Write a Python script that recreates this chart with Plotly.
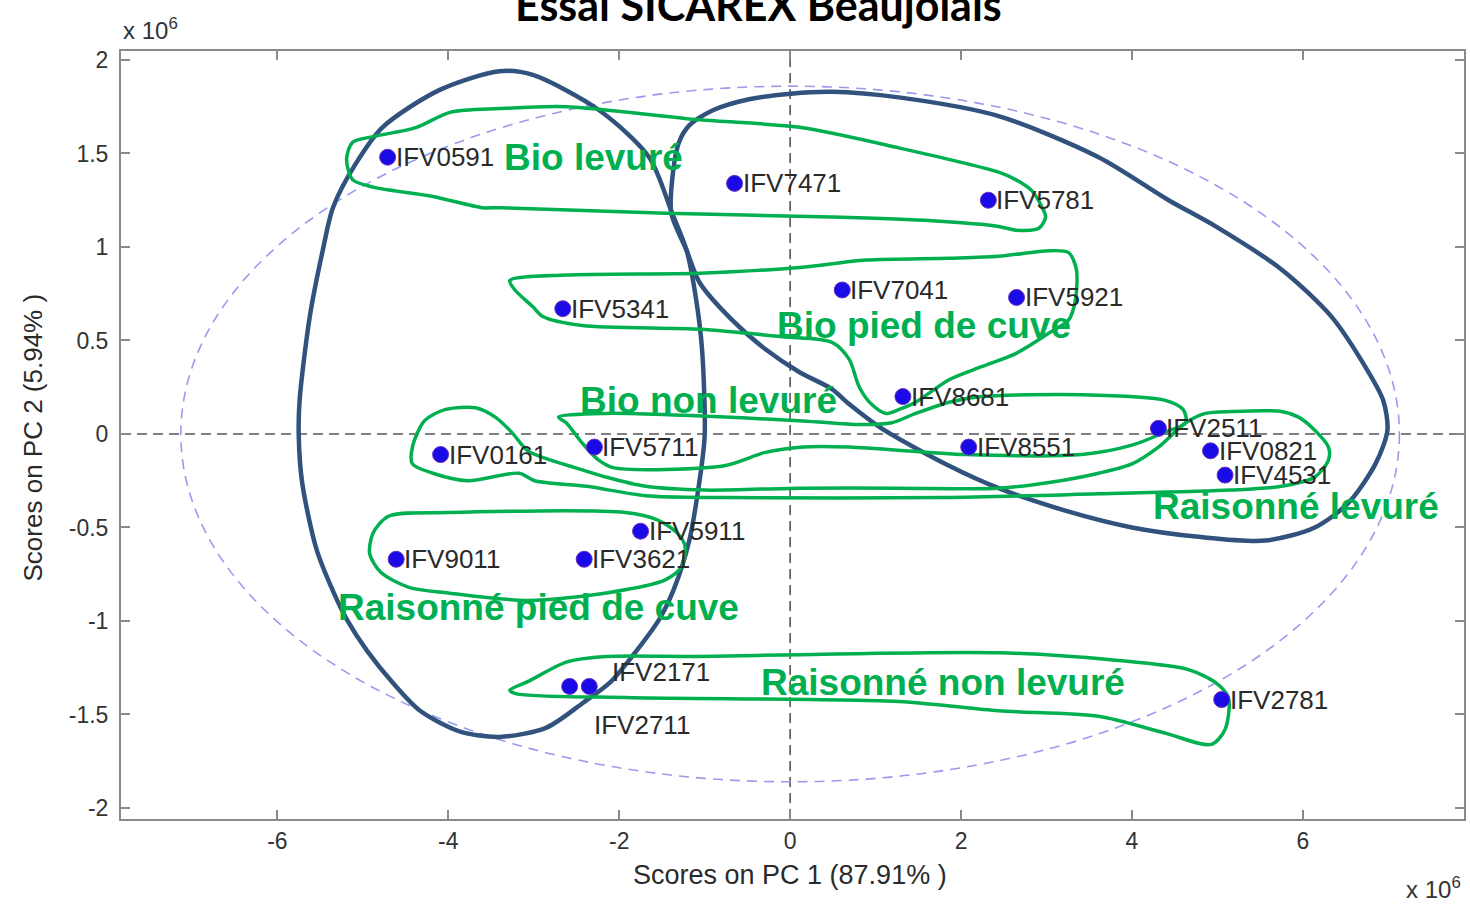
import plotly.graph_objects as go

# ---------------- data ----------------
sample_names = ["IFV0591", "IFV7471", "IFV5781", "IFV7041", "IFV5921", "IFV5341",
                "IFV8681", "IFV0161", "IFV5711", "IFV8551", "IFV2511", "IFV0821",
                "IFV4531", "IFV5911", "IFV9011", "IFV3621", "IFV2171", "IFV2711",
                "IFV2781"]
pc1_scores = [-4.71, -0.65, 2.32, 0.61, 2.65, -2.66,
              1.32, -4.09, -2.29, 2.09, 4.31, 4.92,
              5.09, -1.75, -4.61, -2.41, -2.58, -2.35,
              5.05]
pc2_scores = [1.48, 1.34, 1.25, 0.77, 0.73, 0.67,
              0.20, -0.11, -0.07, -0.07, 0.03, -0.09,
              -0.22, -0.52, -0.67, -0.67, -1.35, -1.35,
              -1.42]

x_tick_vals = [-6, -4, -2, 0, 2, 4, 6]
x_tick_labels = ["-6", "-4", "-2", "0", "2", "4", "6"]
y_tick_vals = [-2, -1.5, -1, -0.5, 0, 0.5, 1, 1.5, 2]
y_tick_labels = ["-2", "-1.5", "-1", "-0.5", "0", "0.5", "1", "1.5", "2"]

# 95% confidence ellipse (semi-axes, in score units)
conf_ellipse_a = 7.13
conf_ellipse_b = 1.86

# hand-drawn group outlines (score units)
bio_levure_x = [-3.40, -2.62, -1.06, 0.11, 1.27, 2.44, 2.64, 2.83, 2.94, 2.99, 2.91, 2.64, 2.44, 1.66,
                0.49, -1.45, -3.40, -3.60, -4.18, -4.88, -5.12, -5.19, -5.12, -4.88, -4.37, -3.98, -3.40]
bio_levure_y = [1.74, 1.75, 1.68, 1.64, 1.53, 1.40, 1.36, 1.30, 1.22, 1.16, 1.10, 1.09, 1.11, 1.14,
                1.16, 1.18, 1.21, 1.21, 1.27, 1.32, 1.36, 1.47, 1.56, 1.59, 1.64, 1.72, 1.74]

bio_pied_x = [-3.28, -2.62, -1.06, 0.11, 0.89, 1.86, 2.44, 3.03, 3.26, 3.35, 3.34, 3.26, 3.03, 2.64,
              2.24, 1.86, 1.47, 1.27, 1.12, 0.95, 0.81, 0.69, 0.49, -0.09, -1.06, -2.43, -2.90, -3.01,
              -3.22, -3.28]
bio_pied_y = [0.82, 0.85, 0.86, 0.89, 0.93, 0.94, 0.95, 0.98, 0.97, 0.88, 0.72, 0.61, 0.54, 0.43,
              0.36, 0.29, 0.17, 0.13, 0.11, 0.16, 0.25, 0.40, 0.49, 0.52, 0.56, 0.58, 0.63, 0.68,
              0.77, 0.82]

bio_non_x = [-2.71, -2.16, -1.24, 0.15, 0.81, 1.19, 1.47, 1.86, 2.24, 3.41, 4.39, 4.60, 4.63, 4.39,
             4.00, 3.41, 2.06, 0.69, 0.15, -0.30, -0.77, -2.07, -2.24, -2.43, -2.62, -2.71]
bio_non_y = [0.09, 0.11, 0.10, 0.07, 0.05, 0.06, 0.11, 0.17, 0.20, 0.21, 0.18, 0.13, 0.06, 0.01,
             -0.06, -0.11, -0.11, -0.07, -0.07, -0.10, -0.17, -0.18, -0.14, -0.05, 0.06, 0.09]

rais_lev_x = [-3.68, -3.45, -3.26, -3.07, -2.80, -2.52, -2.16, -1.69, -1.00, 0.11, 1.27, 2.44, 3.03,
              3.61, 4.00, 4.31, 4.63, 4.86, 5.16, 5.75, 5.95, 6.14, 6.30, 6.30, 6.14, 5.75, 5.16,
              3.61, 1.81, -0.77, -1.69, -2.38, -2.99, -3.17, -3.77, -4.18, -4.42, -4.42, -4.28,
              -4.04, -3.68]
rais_lev_y = [0.14, 0.09, 0.01, -0.09, -0.14, -0.18, -0.23, -0.28, -0.30, -0.29, -0.29, -0.29, -0.26,
              -0.21, -0.16, -0.07, 0.06, 0.11, 0.12, 0.12, 0.09, 0.02, -0.07, -0.14, -0.23, -0.28,
              -0.30, -0.32, -0.34, -0.34, -0.33, -0.28, -0.25, -0.21, -0.25, -0.21, -0.16, -0.07,
              0.07, 0.13, 0.14]

rais_pied_x = [-4.70, -4.00, -1.93, -1.55, -1.32, -1.23, -1.27, -1.46, -2.15, -3.07, -4.00, -4.46,
               -4.79, -4.92, -4.88, -4.70]
rais_pied_y = [-0.44, -0.42, -0.42, -0.46, -0.53, -0.60, -0.71, -0.78, -0.85, -0.89, -0.85, -0.82,
               -0.74, -0.64, -0.53, -0.44]

rais_non_x = [-3.28, -3.05, -2.62, -2.15, -1.06, 0.11, 2.44, 3.81, 4.66, 4.98, 5.13, 5.09, 4.93,
              4.39, 3.61, 2.44, 1.27, -1.85, -3.20, -3.28]
rais_non_y = [-1.37, -1.32, -1.22, -1.19, -1.19, -1.18, -1.17, -1.21, -1.26, -1.33, -1.41, -1.58,
              -1.66, -1.60, -1.51, -1.48, -1.43, -1.41, -1.39, -1.37]

cluster_left_x = [-3.40, -3.01, -2.23, -1.65, -1.38, -1.21, -1.10, -1.03, -1.00, -1.06, -1.18, -1.36,
                  -1.53, -1.85, -2.11, -2.43, -2.85, -3.40, -3.87, -4.33, -4.65, -4.95, -5.19, -5.30,
                  -5.54, -5.71, -5.75, -5.74, -5.62, -5.47, -5.35, -5.09, -4.77, -4.10, -3.40]
cluster_left_y = [1.94, 1.92, 1.73, 1.48, 1.18, 0.98, 0.72, 0.45, -0.01, -0.25, -0.57, -0.83,
                  -0.99, -1.19, -1.33, -1.44, -1.57, -1.62, -1.59, -1.48, -1.33, -1.16, -0.99, -0.89,
                  -0.62, -0.26, -0.01, 0.18, 0.63, 0.98, 1.21, 1.44, 1.64, 1.84, 1.94]

cluster_right_x = [-1.39, -1.21, -1.06, -0.68, -0.28, 0.11, 0.49, 0.69, 1.07, 1.86, 2.44, 3.22, 4.00,
                   4.78, 5.56, 6.14, 6.53, 6.85, 6.99, 6.94, 6.73, 6.33, 5.75, 4.98, 4.43, 3.61,
                   2.44, 1.27, 0.49, 0.01, -0.48, -0.91, -1.18, -1.30, -1.38, -1.39]
cluster_right_y = [1.18, 0.98, 0.81, 0.61, 0.45, 0.33, 0.24, 0.16, 0.03, -0.17, -0.29, -0.41, -0.50,
                   -0.55, -0.57, -0.50, -0.37, -0.16, 0.02, 0.18, 0.36, 0.63, 0.88, 1.11, 1.25, 1.48,
                   1.70, 1.80, 1.83, 1.82, 1.79, 1.73, 1.65, 1.56, 1.36, 1.18]

group_labels = ["Bio levuré", "Bio pied de cuve", "Bio non levuré", "Raisonné levuré",
                "Raisonné pied de cuve", "Raisonné non levuré"]
group_label_x = [-2.30, 1.57, -0.95, 5.92, -2.94, 1.79]
group_label_y = [1.48, 0.58, 0.18, -0.39, -0.93, -1.33]

# ---------------- styles ----------------
GREEN = "#00b050"
NAVY = "#31527d"
AXIS_GRAY = "#8a8a8a"
TEXT_DARK = "#2a2a2a"
FONT = "Liberation Sans, Arial, sans-serif"

label_shift = {"IFV2171": (40, 14), "IFV2711": (3, -39)}

fig = go.Figure()

# navy cluster ellipses
for xs, ys in [(cluster_left_x, cluster_left_y), (cluster_right_x, cluster_right_y)]:
    fig.add_trace(go.Scatter(x=xs, y=ys, mode="lines",
                             line=dict(color=NAVY, width=4.5, shape="spline", smoothing=0.8),
                             hoverinfo="skip", showlegend=False))

# green hand-drawn outlines
for xs, ys in [(bio_levure_x, bio_levure_y), (bio_pied_x, bio_pied_y), (bio_non_x, bio_non_y),
               (rais_lev_x, rais_lev_y), (rais_pied_x, rais_pied_y), (rais_non_x, rais_non_y)]:
    fig.add_trace(go.Scatter(x=xs, y=ys, mode="lines",
                             line=dict(color=GREEN, width=3.5, shape="spline", smoothing=0.8),
                             hoverinfo="skip", showlegend=False))

# sample markers
fig.add_trace(go.Scatter(x=pc1_scores, y=pc2_scores, mode="markers",
                         marker=dict(color="#1a0ae6", size=16, line=dict(color="#6a30c0", width=1)),
                         text=sample_names, showlegend=False))

annotations = []
for name, xv, yv in zip(sample_names, pc1_scores, pc2_scores):
    dx, dy = label_shift.get(name, (6, 0))
    annotations.append(dict(x=xv, y=yv, xref="x", yref="y", text=name, showarrow=False,
                            xanchor="left", yanchor="middle", xshift=dx, yshift=dy,
                            font=dict(family=FONT, size=26, color=TEXT_DARK)))

for txt, xv, yv in zip(group_labels, group_label_x, group_label_y):
    annotations.append(dict(x=xv, y=yv, xref="x", yref="y", text=txt, showarrow=False,
                            xanchor="center", yanchor="middle",
                            font=dict(family=FONT, size=37, color=GREEN, weight="bold")))

# title (partially out of the frame at the top)
annotations.append(dict(x=0.475, y=1, xref="paper", yref="paper", text="<b>Essai SICAREX Beaujolais</b>",
                        showarrow=False, xanchor="center", yanchor="bottom", yshift=19,
                        font=dict(family="Lato, Open Sans, sans-serif", size=43, color="#000000")))
# exponent labels
annotations.append(dict(x=0, y=1, xref="paper", yref="paper", text="x 10<sup>6</sup>",
                        showarrow=False, xanchor="left", yanchor="bottom", yshift=5,
                        font=dict(family=FONT, size=24, color="#333333")))
annotations.append(dict(x=0.999, y=0, xref="paper", yref="paper", text="x 10<sup>6</sup>",
                        showarrow=False, xanchor="right", yanchor="top", yshift=-52,
                        font=dict(family=FONT, size=24, color="#333333")))
# axis titles
annotations.append(dict(x=0.498, y=-0.073, xref="paper", yref="paper",
                        text="Scores on PC 1 (87.91% )", showarrow=False,
                        xanchor="center", yanchor="middle",
                        font=dict(family=FONT, size=27, color=TEXT_DARK)))
annotations.append(dict(x=-0.0654, y=0.497, xref="paper", yref="paper",
                        text="Scores on PC 2 (5.94% )", showarrow=False, textangle=-90,
                        xanchor="center", yanchor="middle",
                        font=dict(family=FONT, size=26, color=TEXT_DARK)))

shapes = [
    dict(type="circle", xref="x", yref="y", x0=-conf_ellipse_a, x1=conf_ellipse_a,
         y0=-conf_ellipse_b, y1=conf_ellipse_b, layer="below",
         line=dict(color="#9a9aee", width=1.6, dash="10px,7px")),
    dict(type="line", xref="x", yref="paper", x0=0, x1=0, y0=0, y1=1, layer="below",
         line=dict(color="#555555", width=1.6, dash="10px,6px")),
    dict(type="line", xref="paper", yref="y", x0=0, x1=1, y0=0, y1=0, layer="below",
         line=dict(color="#555555", width=1.6, dash="10px,6px")),
]

axis_common = dict(showgrid=False, zeroline=False, showline=True, mirror="ticks",
                   linecolor=AXIS_GRAY, linewidth=2, ticks="inside", ticklen=9,
                   tickcolor=AXIS_GRAY, tickwidth=1.5,
                   tickfont=dict(family=FONT, size=23, color="#333333"))

fig.update_layout(
    width=1470, height=907,
    margin=dict(l=121, r=4, t=51, b=88),
    paper_bgcolor="white", plot_bgcolor="white",
    xaxis=dict(range=[-7.83, 7.886], tickvals=x_tick_vals, ticktext=x_tick_labels,
               ticklabelstandoff=0, **axis_common),
    yaxis=dict(range=[-2.059, 2.048], tickvals=y_tick_vals, ticktext=y_tick_labels,
               ticklabelstandoff=6, **axis_common),
    annotations=annotations,
    shapes=shapes,
    showlegend=False,
)

fig.write_html("out.html", config={"displayModeBar": False},
               post_script="document.body.style.margin='0';document.body.style.overflow='hidden';")
